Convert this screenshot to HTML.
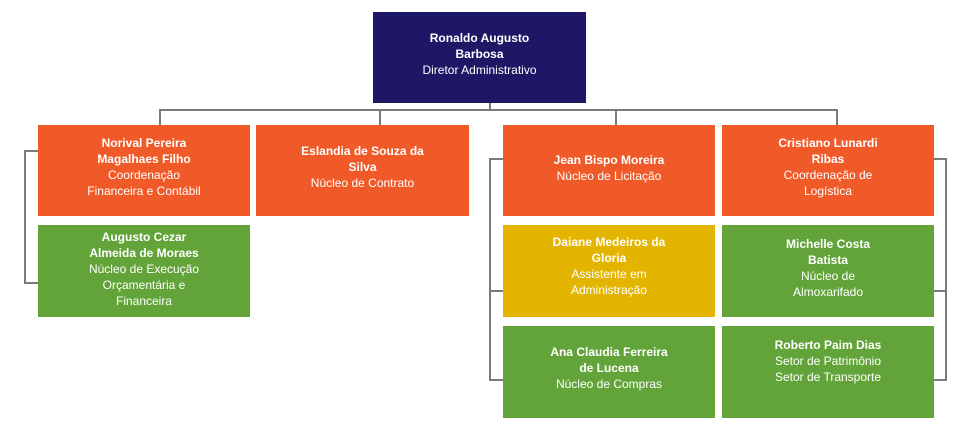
<!DOCTYPE html>
<html><head><meta charset="utf-8"><style>
*{margin:0;padding:0;box-sizing:border-box}
body{width:972px;height:435px;background:#fff;position:relative;overflow:hidden;font-family:"Liberation Sans","DejaVu Sans",sans-serif}
.b{position:absolute;color:#fff;text-align:center;font-size:12px;line-height:16px}
.t{position:absolute;left:0;right:0;padding:0 10px}
.t b{font-weight:bold}
.o{background:#f05a28}.g{background:#62a43a}.y{background:#e3b500}.n{background:#1d1766}
.l{position:absolute;background:#7a7a7a}
</style></head><body>
<div class="l" style="left:489px;top:103px;width:2px;height:8px"></div>
<div class="l" style="left:159px;top:109px;width:679px;height:2px"></div>
<div class="l" style="left:159px;top:109px;width:2px;height:16px"></div>
<div class="l" style="left:379px;top:109px;width:2px;height:16px"></div>
<div class="l" style="left:615px;top:109px;width:2px;height:16px"></div>
<div class="l" style="left:836px;top:109px;width:2px;height:16px"></div>
<div class="l" style="left:24px;top:150px;width:2px;height:134px"></div>
<div class="l" style="left:24px;top:150px;width:14px;height:2px"></div>
<div class="l" style="left:24px;top:282px;width:14px;height:2px"></div>
<div class="l" style="left:489px;top:158px;width:2px;height:223px"></div>
<div class="l" style="left:489px;top:158px;width:14px;height:2px"></div>
<div class="l" style="left:489px;top:290px;width:14px;height:2px"></div>
<div class="l" style="left:489px;top:379px;width:14px;height:2px"></div>
<div class="l" style="left:945px;top:158px;width:2px;height:223px"></div>
<div class="l" style="left:934px;top:158px;width:13px;height:2px"></div>
<div class="l" style="left:934px;top:290px;width:13px;height:2px"></div>
<div class="l" style="left:934px;top:379px;width:13px;height:2px"></div>

<div class="b n" style="left:373px;top:12px;width:213px;height:91px"><div class="t" style="top:18px"><b>Ronaldo Augusto<br>Barbosa</b><br>Diretor Administrativo</div></div>

<div class="b o" style="left:38px;top:125px;width:212px;height:91px"><div class="t" style="top:10px"><b>Norival Pereira<br>Magalhaes Filho</b><br>Coordenação<br>Financeira e Contábil</div></div>
<div class="b o" style="left:256px;top:125px;width:213px;height:91px"><div class="t" style="top:18px"><b>Eslandia de Souza da<br>Silva</b><br>Núcleo de Contrato</div></div>
<div class="b o" style="left:503px;top:125px;width:212px;height:91px"><div class="t" style="top:27px"><b>Jean Bispo Moreira</b><br>Núcleo de Licitação</div></div>
<div class="b o" style="left:722px;top:125px;width:212px;height:91px"><div class="t" style="top:10px"><b>Cristiano Lunardi<br>Ribas</b><br>Coordenação de<br>Logística</div></div>

<div class="b g" style="left:38px;top:225px;width:212px;height:92px"><div class="t" style="top:4px"><b>Augusto Cezar<br>Almeida de Moraes</b><br>Núcleo de Execução<br>Orçamentária e<br>Financeira</div></div>
<div class="b y" style="left:503px;top:225px;width:212px;height:92px"><div class="t" style="top:9px"><b>Daiane Medeiros da<br>Gloria</b><br>Assistente em<br>Administração</div></div>
<div class="b g" style="left:722px;top:225px;width:212px;height:92px"><div class="t" style="top:11px"><b>Michelle Costa<br>Batista</b><br>Núcleo de<br>Almoxarifado</div></div>

<div class="b g" style="left:503px;top:326px;width:212px;height:92px"><div class="t" style="top:18px"><b>Ana Claudia Ferreira<br>de Lucena</b><br>Núcleo de Compras</div></div>
<div class="b g" style="left:722px;top:326px;width:212px;height:92px"><div class="t" style="top:11px"><b>Roberto Paim Dias</b><br>Setor de Patrimônio<br>Setor de Transporte</div></div>
</body></html>
